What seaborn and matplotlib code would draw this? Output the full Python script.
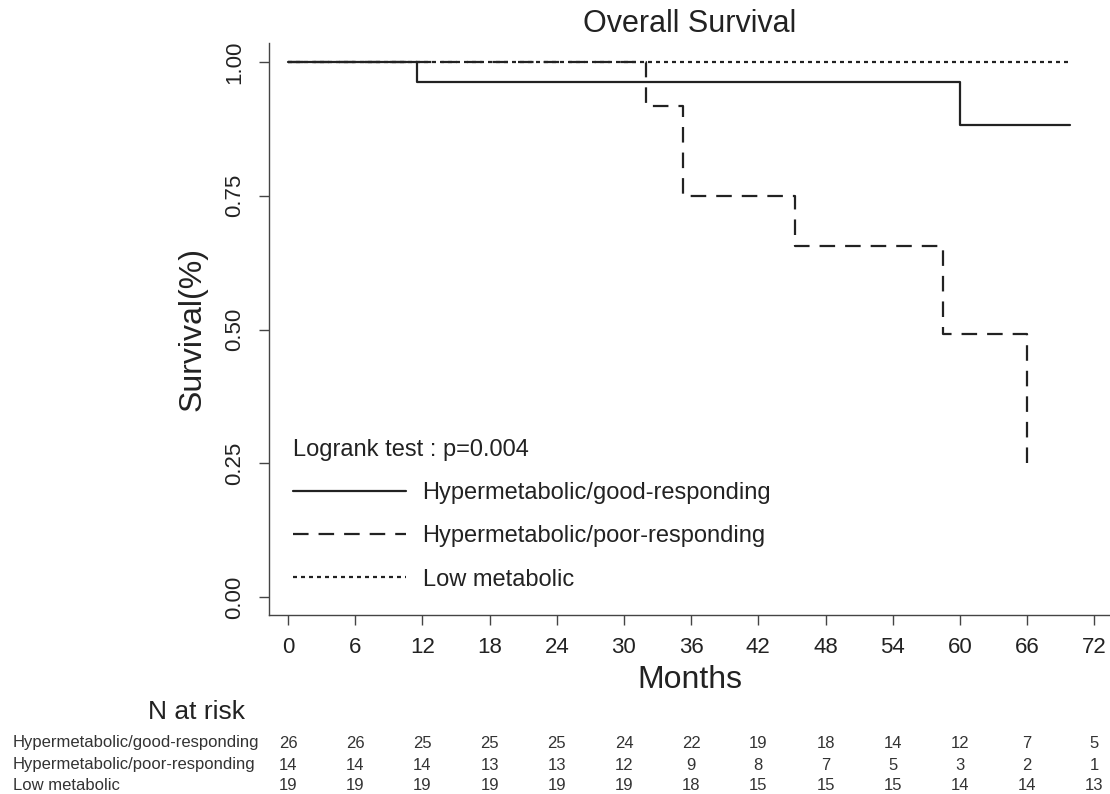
import numpy as np
import pandas as pd
import seaborn as sns
import matplotlib
matplotlib.use("Agg")
import matplotlib.pyplot as plt
import matplotlib.transforms as mtransforms
from matplotlib import font_manager

# Kaplan-Meier step points (months, survival)
good_t = [0, 11.5, 60, 69.8]
good_s = [1.0, 0.962, 0.882, 0.882]
poor_t = [0, 32, 35.3, 45.3, 58.5, 66]
poor_s = [1.0, 0.917, 0.75, 0.656, 0.492, 0.246]
low_t = [0, 69.8]
low_s = [1.0, 1.0]

groups = ["Hypermetabolic/good-responding", "Hypermetabolic/poor-responding", "Low metabolic"]
month_ticks = list(range(0, 73, 6))
y_ticks = [0.0, 0.25, 0.5, 0.75, 1.0]

# Number at risk table
risk_good = [26, 26, 25, 25, 25, 24, 22, 19, 18, 14, 12, 7, 5]
risk_poor = [14, 14, 14, 13, 13, 12, 9, 8, 7, 5, 3, 2, 1]
risk_low = [19, 19, 19, 19, 19, 19, 18, 15, 15, 15, 14, 14, 13]

sns.set_style("ticks")
plt.rcParams["font.family"] = ["Liberation Sans", "DejaVu Sans"]

df = pd.concat([
    pd.DataFrame({"Months": good_t, "Survival": good_s, "group": groups[0]}),
    pd.DataFrame({"Months": poor_t, "Survival": poor_s, "group": groups[1]}),
    pd.DataFrame({"Months": low_t, "Survival": low_s, "group": groups[2]}),
])

fig = plt.figure(figsize=(11.1, 7.94), dpi=100)
ax = fig.add_axes([0.2423, 0.2254, 0.7577, 0.7204])

styles = {groups[0]: (None, 3), groups[1]: ((7, 4.5), 2), groups[2]: ((1.8, 1.8), 1)}
# draw dotted first, solid on top
for g in [groups[2], groups[1], groups[0]]:
    dash, z = styles[g]
    sub = df[df["group"] == g]
    sns.lineplot(data=sub, x="Months", y="Survival", drawstyle="steps-post",
                 estimator=None, sort=False, color="#222222", linewidth=1.6,
                 ax=ax, zorder=z, label=g)
    line = ax.get_lines()[-1]
    if dash is not None:
        line.set_dashes(dash)

ax.set_xlim(-1.7, 73.4)
ax.set_ylim(-0.0336, 1.0355)
ax.set_xticks(month_ticks)
ax.set_yticks(y_ticks)
ax.set_yticklabels(["0.00", "0.25", "0.50", "0.75", "1.00"])
for lab in ax.get_yticklabels():
    lab.set_rotation(90)
    lab.set_va("center")
ax.tick_params(axis="both", direction="out", length=7, width=1, color="#444444",
               labelsize=16, labelcolor="#222222")
ax.tick_params(axis="x", pad=9)
ax.tick_params(axis="y", pad=10)
sns.despine(ax=ax)
for sp in ["left", "bottom"]:
    ax.spines[sp].set_color("#444444")
    ax.spines[sp].set_linewidth(1)

ax.set_title("Overall Survival", fontsize=22, color="#222222", pad=8)
ax.set_xlabel("Months", fontsize=23, color="#222222", labelpad=5)
ax.set_ylabel("Survival(%)", fontsize=23, color="#222222", labelpad=12)

handles = ax.get_lines()
leg = ax.legend(handles=[handles[2], handles[1], handles[0]], labels=groups,
                title="Logrank test : p=0.004", alignment="left",
                loc="upper left", bbox_to_anchor=(0.003, 0.345), frameon=False,
                fontsize=17, title_fontsize=17, handlelength=4.8,
                handletextpad=0.7, labelspacing=0.9)
for t in leg.get_texts():
    t.set_color("#222222")
leg.get_title().set_color("#222222")

# N at risk table below the axes
names = {f.name for f in font_manager.fontManager.ttflist}
if "Liberation Sans Narrow" in names:
    tfam, tsize = "Liberation Sans Narrow", 14.5
else:
    tfam, tsize = "Liberation Sans", 12
trans = mtransforms.blended_transform_factory(ax.transData, fig.transFigure)
fig.text(197 / 1110, 1 - 712 / 794, "N at risk", fontsize=19, ha="center",
         va="center", color="#222222")
rows = [risk_good, risk_poor, risk_low]
row_y = [743, 765, 786]
for name, vals, yp in zip(groups, rows, row_y):
    fig.text(13 / 1110, 1 - yp / 794, name, fontsize=tsize, family=tfam,
             ha="left", va="center", color="#333333")
    for m, v in zip(month_ticks, vals):
        ax.text(m, 1 - yp / 794, str(v), transform=trans, fontsize=tsize,
                family=tfam, ha="center", va="center", color="#333333",
                clip_on=False)

fig.savefig("out.png", dpi=100)
